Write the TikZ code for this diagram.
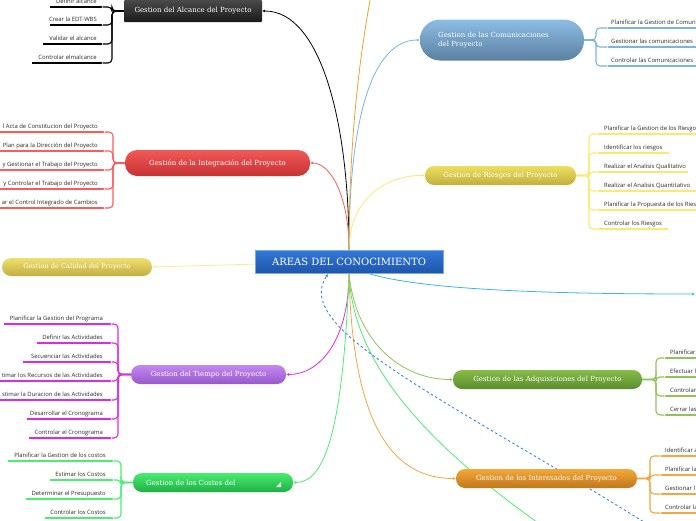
\documentclass[tikz,border=0pt]{standalone}
\usepackage{fontspec}
\setmainfont{DejaVu Serif}
\newfontfamily\subfont{Open Sans}
\usetikzlibrary{arrows.meta}
\definecolor{alT}{HTML}{4A4A4A}\definecolor{alB}{HTML}{1A1A1A}
\definecolor{inT}{HTML}{F25858}\definecolor{inB}{HTML}{C63232}\definecolor{inL}{HTML}{FF5A5A}
\definecolor{caT}{HTML}{EEE070}\definecolor{caB}{HTML}{C2AE40}\definecolor{caL}{HTML}{F8EC8A}
\definecolor{tiT}{HTML}{C488F0}\definecolor{tiB}{HTML}{9658CC}\definecolor{tiL}{HTML}{E028E8}
\definecolor{csT}{HTML}{48EC70}\definecolor{csB}{HTML}{1EB044}\definecolor{csL}{HTML}{48F070}
\definecolor{coT}{HTML}{8CBCE4}\definecolor{coB}{HTML}{5C80A0}\definecolor{coL}{HTML}{7AB4E0}
\definecolor{riT}{HTML}{ECE060}\definecolor{riB}{HTML}{C2AE3C}\definecolor{riL}{HTML}{FCE870}
\definecolor{adT}{HTML}{88BC48}\definecolor{adB}{HTML}{5A8C2C}\definecolor{adL}{HTML}{90C458}
\definecolor{itT}{HTML}{F4A838}\definecolor{itB}{HTML}{C0761C}\definecolor{itL}{HTML}{F4A640}
\definecolor{ceT}{HTML}{3278D8}\definecolor{ceB}{HTML}{1E56AA}\definecolor{ceE}{HTML}{78A8EC}
\definecolor{lbL}{HTML}{38B4F4}\definecolor{orL}{HTML}{F0A028}\definecolor{daL}{HTML}{3A86E0}
\definecolor{txt}{HTML}{2A2A2A}
\tikzset{
  pill/.style={rounded corners=9pt, text=white, font=\fontsize{7}{8}\selectfont, inner sep=0pt},
  conn/.style={line width=0.8pt, -{Latex[length=3pt,width=3pt]}},
  kid/.style={line width=1.1pt, rounded corners=4pt},
  kidarrow/.style={line width=1.1pt, -{Latex[length=2.6pt,width=2.6pt]}},
  kidtxt/.style={inner sep=0pt, text=txt, font=\subfont\fontsize{5.9}{6}\selectfont}
}
\begin{document}
\begin{tikzpicture}[x=1pt,y=-1pt]
\useasboundingbox (0,0) rectangle (696,520);
% ---------- central node geometry (for connectors drawn first)
\coordinate (Cn) at (349,250);
\coordinate (Cs) at (349,273);
\coordinate (Cc) at (349,261.5);
% ---------- main node outlines used as connector targets
\path
  (193,11) node[minimum width=138pt, minimum height=22pt] (al) {}
  (217.5,163) node[minimum width=185pt, minimum height=26pt] (in) {}
  (77,267) node[minimum width=150pt, minimum height=18pt] (ca) {}
  (208.5,374.5) node[minimum width=155pt, minimum height=19pt] (ti) {}
  (213,482.5) node[minimum width=160pt, minimum height=19pt] (cs) {}
  (502,40) node[minimum width=164pt, minimum height=41pt] (co) {}
  (500.5,175.5) node[minimum width=151pt, minimum height=19pt] (ri) {}
  (547.5,379.5) node[minimum width=189pt, minimum height=19pt] (ad) {}
  (546.5,478.5) node[minimum width=181pt, minimum height=19pt] (it) {};
\coordinate (topEnd) at (373,-15);
\coordinate (grEnd) at (548,530);
\coordinate (lbStart) at (367,273);
\coordinate (lbEnd) at (695,294);
\coordinate (daStart) at (660,532);
\coordinate (daEnd) at (328,274);
% ---------- connectors from centre
\draw[conn, black] (Cn) .. controls (349,120) and (320,11) .. (al.east);
\draw[conn, inL] (Cn) .. controls (349,195) and (330,163) .. (in.east);
\draw[conn, coL] (Cn) .. controls (349,110) and (375,40) .. (co.west);
\draw[conn, riL] (Cn) .. controls (349,200) and (385,175) .. (ri.west);
\draw[line width=0.8pt, orL] (Cn) .. controls (349,150) and (358,60) .. (topEnd);
\draw[conn, caL] (Cc) -- (ca.east);
\draw[conn, tiL] (Cs) .. controls (349,340) and (320,374.5) .. (ti.east);
\draw[conn, csL] (Cs) .. controls (343,430) and (325,482.5) .. (cs.east);
\draw[conn, adL] (Cs) .. controls (355,340) and (400,379.5) .. (ad.west);
\draw[line width=0.8pt, csL] (Cs) .. controls (352,360) and (420,440) .. (grEnd);
\draw[conn, itL] (Cs) .. controls (352,420) and (390,478.5) .. (it.west);
\draw[conn, lbL] (lbStart) .. controls (420,290) and (550,294) .. (lbEnd);
\draw[line width=0.9pt, daL, dash pattern=on 2.5pt off 2.5pt, -{Latex[length=3pt,width=3pt]}]
  (daStart) .. controls (450,400) and (290,330) .. (daEnd);
% ---------- main nodes drawn
\node[pill, rounded corners=1pt, top color=alT, bottom color=alB, minimum width=138pt, minimum height=22pt] (alN) at (193,11) {Gestion del Alcance del Proyecto};
\node[pill, rounded corners=12pt, top color=inT, bottom color=inB, minimum width=185pt, minimum height=26pt] (inN) at (217.5,163) {Gestión de la Integración del Proyecto};
\node[pill, top color=caT, bottom color=caB, minimum width=150pt, minimum height=18pt, font=\fontsize{6.6}{7}\selectfont] (caN) at (77,267) {Gestion de Calidad del Proyecto};
\node[pill, top color=tiT, bottom color=tiB, minimum width=155pt, minimum height=19pt] (tiN) at (208.5,374.5) {Gestion del Tiempo del Proyecto};
\node[pill, top color=csT, bottom color=csB, minimum width=160pt, minimum height=19pt] (csN) at (213,482.5) {};
\node[inner sep=0pt, text=white, font=\fontsize{7}{8}\selectfont, anchor=west] (csT) at (146,482.5) {Gestion de los Costes del};
\fill[white] (276,487) -- (281,487) -- (281,482) -- cycle;
\node[pill, rounded corners=20pt, top color=coT, bottom color=coB, minimum width=164pt, minimum height=41pt] (coN) at (502,40) {};
\node[inner sep=0pt, text=white, font=\fontsize{7}{9}\selectfont, anchor=west, align=left] (coT) at (438,40) {Gestion de las Comunicaciones\\del Proyecto};
\node[pill, top color=riT, bottom color=riB, minimum width=151pt, minimum height=19pt] (riN) at (500.5,175.5) {Gestion de Riesgos del Proyecto};
\node[pill, top color=adT, bottom color=adB, minimum width=189pt, minimum height=19pt] (adN) at (547.5,379.5) {Gestion de las Adquisiciones del Proyecto};
\node[pill, top color=itT, bottom color=itB, minimum width=181pt, minimum height=19pt] (itN) at (546.5,478.5) {Gestion de los Interesados del Proyecto};
\node[draw=ceE, line width=0.6pt, top color=ceT, bottom color=ceB, text=white, inner sep=0pt,
      minimum width=188pt, minimum height=23pt, font=\fontsize{10}{12}\selectfont] (C) at (Cc) {AREAS DEL CONOCIMIENTO};
% ---------- left children
% Alcance
\coordinate (alJ) at (117,11);
\foreach \y/\xl/\t [count=\i] in {7/50/Definir alcance,25/50/Crear la EDT-WBS,44/43/Validar el alcance,63/32/Controlar elmalcance}{
  \draw[kid, black] (alN.west) -- (alJ) -| (112,\y) -- (103,\y);
  \draw[kidarrow, black] (\xl,\y) -- (103,\y);
  \node[kidtxt, anchor=base east] (alk\i) at (97,\y-3.5) {\t};
}
% Integracion
\coordinate (inJ) at (118,163);
\foreach \y/\t [count=\i] in {132/l Acta de Constitucion del Proyecto,151/Plan para la Dirección del Proyecto,170/y Gestionar el Trabajo del Proyecto,189/y Controlar el Trabajo del Proyecto,208/ar el Control Integrado de Cambios}{
  \draw[kid, inL] (inN.west) -- (inJ) -| (113,\y) -- (105,\y);
  \draw[kidarrow, inL] (-2,\y) -- (105,\y);
  \node[kidtxt, anchor=base east] (ink\i) at (98,\y-3.5) {\t};
}
% Tiempo
\coordinate (tiJ) at (123,374.5);
\foreach \y/\xl/\t [count=\i] in {324/4/Planificar la Gestion del Programa,343/37/Definir las Actividades,362/23/Secuenciar las Actividades,381/-2/timar los Recursos de las Actividades,400/-2/stimar la Duracion de las Actividades,419/27/Desarrollar el Cronograma,438/29/Controlar el Cronograma}{
  \draw[kid, tiL] (tiN.west) -- (tiJ) -| (118,\y) -- (112,\y);
  \draw[kidarrow, tiL] (\xl,\y) -- (112,\y);
  \node[kidtxt, anchor=base east] (tik\i) at (103,\y-3.5) {\t};
}
% Costes
\coordinate (csJ) at (126,482.5);
\foreach \y/\xl/\t [count=\i] in {461/8/Planificar la Gestion de los costos,480/50/Estimar los Costos,499/26/Determinar el Presupuesto,518/45/Controlar los Costos}{
  \draw[kid, csL] (csN.west) -- (csJ) -| (121,\y) -- (114,\y);
  \draw[kidarrow, csL] (\xl,\y) -- (114,\y);
  \node[kidtxt, anchor=base east] (csk\i) at (106,\y-3.5) {\t};
}
% ---------- right children
% Comunicaciones
\coordinate (coJ) at (590,40);
\foreach \y/\t [count=\i] in {28/Planificar la Gestion de Comun,47/Gestionar las comunicaciones,66/Controlar las Comunicaciones}{
  \draw[kid, coL] (coN.east) -- (coJ) -| (596,\y) -- (607,\y);
  \draw[kidarrow, coL] (698,\y) -- (607,\y);
  \node[kidtxt, anchor=base west] (cok\i) at (611,\y-3.5) {\t};
}
% Riesgos
\coordinate (riJ) at (583,175.5);
\foreach \y/\xr/\t [count=\i] in {134/698/Planificar la Gestion de los Riesgo,153/669/Identificar los riesgos,172/688/Realizar el Analisis Qualitativo,191/698/Realizar el Analisis Quantitativo,210/698/Planificar la Propuesta de los Ries,229/668/Controlar los Riesgos}{
  \draw[kid, riL] (riN.east) -- (riJ) -| (589,\y) -- (597,\y);
  \draw[kidarrow, riL] (\xr,\y) -- (597,\y);
  \node[kidtxt, anchor=base west] (rik\i) at (604,\y-3.5) {\t};
}
% Adquisiciones
\coordinate (adJ) at (650,379.5);
\foreach \y/\t [count=\i] in {358/Planificar,377/Efectuar l,396/Controlar,415/Cerrar las}{
  \draw[kid, adL] (adN.east) -- (adJ) -| (656,\y) -- (664,\y);
  \draw[kidarrow, adL] (698,\y) -- (664,\y);
  \node[kidtxt, anchor=base west] (adk\i) at (670,\y-3.5) {\t};
}
% Interesados
\coordinate (itJ) at (645,478.5);
\foreach \y/\t [count=\i] in {456/Identificar a,475/Planificar la,494/Gestionar l,513/Controlar la}{
  \draw[kid, itL] (itN.east) -- (itJ) -| (650,\y) -- (660,\y);
  \draw[kidarrow, itL] (698,\y) -- (660,\y);
  \node[kidtxt, anchor=base west] (itk\i) at (665,\y-3.5) {\t};
}
\end{tikzpicture}
\end{document}
